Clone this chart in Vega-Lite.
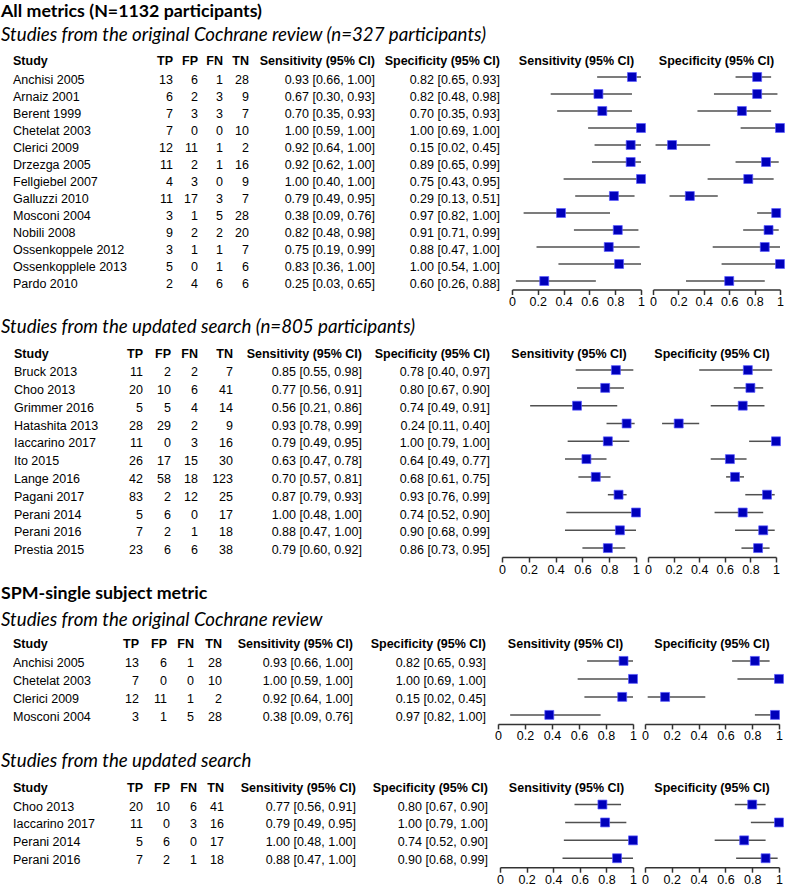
{
  "$schema": "https://vega.github.io/schema/vega-lite/v6.json",
  "padding": {"left": 1, "top": 2.5, "right": 0, "bottom": 0},
  "background": "white",
  "datasets": {
    "s1": [
      {"Study": "Anchisi 2005", "TP": 13, "FP": 6, "FN": 1, "TN": 28, "sens": 0.93, "sens_lo": 0.66, "sens_hi": 1.0, "spec": 0.82, "spec_lo": 0.65, "spec_hi": 0.93, "sens_ci": "0.93 [0.66, 1.00]", "spec_ci": "0.82 [0.65, 0.93]"},
      {"Study": "Arnaiz 2001", "TP": 6, "FP": 2, "FN": 3, "TN": 9, "sens": 0.67, "sens_lo": 0.30, "sens_hi": 0.93, "spec": 0.82, "spec_lo": 0.48, "spec_hi": 0.98, "sens_ci": "0.67 [0.30, 0.93]", "spec_ci": "0.82 [0.48, 0.98]"},
      {"Study": "Berent 1999", "TP": 7, "FP": 3, "FN": 3, "TN": 7, "sens": 0.70, "sens_lo": 0.35, "sens_hi": 0.93, "spec": 0.70, "spec_lo": 0.35, "spec_hi": 0.93, "sens_ci": "0.70 [0.35, 0.93]", "spec_ci": "0.70 [0.35, 0.93]"},
      {"Study": "Chetelat 2003", "TP": 7, "FP": 0, "FN": 0, "TN": 10, "sens": 1.0, "sens_lo": 0.59, "sens_hi": 1.0, "spec": 1.0, "spec_lo": 0.69, "spec_hi": 1.0, "sens_ci": "1.00 [0.59, 1.00]", "spec_ci": "1.00 [0.69, 1.00]"},
      {"Study": "Clerici 2009", "TP": 12, "FP": 11, "FN": 1, "TN": 2, "sens": 0.92, "sens_lo": 0.64, "sens_hi": 1.0, "spec": 0.15, "spec_lo": 0.02, "spec_hi": 0.45, "sens_ci": "0.92 [0.64, 1.00]", "spec_ci": "0.15 [0.02, 0.45]"},
      {"Study": "Drzezga 2005", "TP": 11, "FP": 2, "FN": 1, "TN": 16, "sens": 0.92, "sens_lo": 0.62, "sens_hi": 1.0, "spec": 0.89, "spec_lo": 0.65, "spec_hi": 0.99, "sens_ci": "0.92 [0.62, 1.00]", "spec_ci": "0.89 [0.65, 0.99]"},
      {"Study": "Fellgiebel 2007", "TP": 4, "FP": 3, "FN": 0, "TN": 9, "sens": 1.0, "sens_lo": 0.40, "sens_hi": 1.0, "spec": 0.75, "spec_lo": 0.43, "spec_hi": 0.95, "sens_ci": "1.00 [0.40, 1.00]", "spec_ci": "0.75 [0.43, 0.95]"},
      {"Study": "Galluzzi 2010", "TP": 11, "FP": 17, "FN": 3, "TN": 7, "sens": 0.79, "sens_lo": 0.49, "sens_hi": 0.95, "spec": 0.29, "spec_lo": 0.13, "spec_hi": 0.51, "sens_ci": "0.79 [0.49, 0.95]", "spec_ci": "0.29 [0.13, 0.51]"},
      {"Study": "Mosconi 2004", "TP": 3, "FP": 1, "FN": 5, "TN": 28, "sens": 0.38, "sens_lo": 0.09, "sens_hi": 0.76, "spec": 0.97, "spec_lo": 0.82, "spec_hi": 1.0, "sens_ci": "0.38 [0.09, 0.76]", "spec_ci": "0.97 [0.82, 1.00]"},
      {"Study": "Nobili 2008", "TP": 9, "FP": 2, "FN": 2, "TN": 20, "sens": 0.82, "sens_lo": 0.48, "sens_hi": 0.98, "spec": 0.91, "spec_lo": 0.71, "spec_hi": 0.99, "sens_ci": "0.82 [0.48, 0.98]", "spec_ci": "0.91 [0.71, 0.99]"},
      {"Study": "Ossenkoppele 2012", "TP": 3, "FP": 1, "FN": 1, "TN": 7, "sens": 0.75, "sens_lo": 0.19, "sens_hi": 0.99, "spec": 0.88, "spec_lo": 0.47, "spec_hi": 1.0, "sens_ci": "0.75 [0.19, 0.99]", "spec_ci": "0.88 [0.47, 1.00]"},
      {"Study": "Ossenkopplele 2013", "TP": 5, "FP": 0, "FN": 1, "TN": 6, "sens": 0.83, "sens_lo": 0.36, "sens_hi": 1.0, "spec": 1.0, "spec_lo": 0.54, "spec_hi": 1.0, "sens_ci": "0.83 [0.36, 1.00]", "spec_ci": "1.00 [0.54, 1.00]"},
      {"Study": "Pardo 2010", "TP": 2, "FP": 4, "FN": 6, "TN": 6, "sens": 0.25, "sens_lo": 0.03, "sens_hi": 0.65, "spec": 0.60, "spec_lo": 0.26, "spec_hi": 0.88, "sens_ci": "0.25 [0.03, 0.65]", "spec_ci": "0.60 [0.26, 0.88]"}
    ],
    "s2": [
      {"Study": "Bruck 2013", "TP": 11, "FP": 2, "FN": 2, "TN": 7, "sens": 0.85, "sens_lo": 0.55, "sens_hi": 0.98, "spec": 0.78, "spec_lo": 0.40, "spec_hi": 0.97, "sens_ci": "0.85 [0.55, 0.98]", "spec_ci": "0.78 [0.40, 0.97]"},
      {"Study": "Choo 2013", "TP": 20, "FP": 10, "FN": 6, "TN": 41, "sens": 0.77, "sens_lo": 0.56, "sens_hi": 0.91, "spec": 0.80, "spec_lo": 0.67, "spec_hi": 0.90, "sens_ci": "0.77 [0.56, 0.91]", "spec_ci": "0.80 [0.67, 0.90]"},
      {"Study": "Grimmer 2016", "TP": 5, "FP": 5, "FN": 4, "TN": 14, "sens": 0.56, "sens_lo": 0.21, "sens_hi": 0.86, "spec": 0.74, "spec_lo": 0.49, "spec_hi": 0.91, "sens_ci": "0.56 [0.21, 0.86]", "spec_ci": "0.74 [0.49, 0.91]"},
      {"Study": "Hatashita 2013", "TP": 28, "FP": 29, "FN": 2, "TN": 9, "sens": 0.93, "sens_lo": 0.78, "sens_hi": 0.99, "spec": 0.24, "spec_lo": 0.11, "spec_hi": 0.40, "sens_ci": "0.93 [0.78, 0.99]", "spec_ci": "0.24 [0.11, 0.40]"},
      {"Study": "Iaccarino 2017", "TP": 11, "FP": 0, "FN": 3, "TN": 16, "sens": 0.79, "sens_lo": 0.49, "sens_hi": 0.95, "spec": 1.0, "spec_lo": 0.79, "spec_hi": 1.0, "sens_ci": "0.79 [0.49, 0.95]", "spec_ci": "1.00 [0.79, 1.00]"},
      {"Study": "Ito 2015", "TP": 26, "FP": 17, "FN": 15, "TN": 30, "sens": 0.63, "sens_lo": 0.47, "sens_hi": 0.78, "spec": 0.64, "spec_lo": 0.49, "spec_hi": 0.77, "sens_ci": "0.63 [0.47, 0.78]", "spec_ci": "0.64 [0.49, 0.77]"},
      {"Study": "Lange 2016", "TP": 42, "FP": 58, "FN": 18, "TN": 123, "sens": 0.70, "sens_lo": 0.57, "sens_hi": 0.81, "spec": 0.68, "spec_lo": 0.61, "spec_hi": 0.75, "sens_ci": "0.70 [0.57, 0.81]", "spec_ci": "0.68 [0.61, 0.75]"},
      {"Study": "Pagani 2017", "TP": 83, "FP": 2, "FN": 12, "TN": 25, "sens": 0.87, "sens_lo": 0.79, "sens_hi": 0.93, "spec": 0.93, "spec_lo": 0.76, "spec_hi": 0.99, "sens_ci": "0.87 [0.79, 0.93]", "spec_ci": "0.93 [0.76, 0.99]"},
      {"Study": "Perani 2014", "TP": 5, "FP": 6, "FN": 0, "TN": 17, "sens": 1.0, "sens_lo": 0.48, "sens_hi": 1.0, "spec": 0.74, "spec_lo": 0.52, "spec_hi": 0.90, "sens_ci": "1.00 [0.48, 1.00]", "spec_ci": "0.74 [0.52, 0.90]"},
      {"Study": "Perani 2016", "TP": 7, "FP": 2, "FN": 1, "TN": 18, "sens": 0.88, "sens_lo": 0.47, "sens_hi": 1.0, "spec": 0.90, "spec_lo": 0.68, "spec_hi": 0.99, "sens_ci": "0.88 [0.47, 1.00]", "spec_ci": "0.90 [0.68, 0.99]"},
      {"Study": "Prestia 2015", "TP": 23, "FP": 6, "FN": 6, "TN": 38, "sens": 0.79, "sens_lo": 0.60, "sens_hi": 0.92, "spec": 0.86, "spec_lo": 0.73, "spec_hi": 0.95, "sens_ci": "0.79 [0.60, 0.92]", "spec_ci": "0.86 [0.73, 0.95]"}
    ],
    "s3": [
      {"Study": "Anchisi 2005", "TP": 13, "FP": 6, "FN": 1, "TN": 28, "sens": 0.93, "sens_lo": 0.66, "sens_hi": 1.0, "spec": 0.82, "spec_lo": 0.65, "spec_hi": 0.93, "sens_ci": "0.93 [0.66, 1.00]", "spec_ci": "0.82 [0.65, 0.93]"},
      {"Study": "Chetelat 2003", "TP": 7, "FP": 0, "FN": 0, "TN": 10, "sens": 1.0, "sens_lo": 0.59, "sens_hi": 1.0, "spec": 1.0, "spec_lo": 0.69, "spec_hi": 1.0, "sens_ci": "1.00 [0.59, 1.00]", "spec_ci": "1.00 [0.69, 1.00]"},
      {"Study": "Clerici 2009", "TP": 12, "FP": 11, "FN": 1, "TN": 2, "sens": 0.92, "sens_lo": 0.64, "sens_hi": 1.0, "spec": 0.15, "spec_lo": 0.02, "spec_hi": 0.45, "sens_ci": "0.92 [0.64, 1.00]", "spec_ci": "0.15 [0.02, 0.45]"},
      {"Study": "Mosconi 2004", "TP": 3, "FP": 1, "FN": 5, "TN": 28, "sens": 0.38, "sens_lo": 0.09, "sens_hi": 0.76, "spec": 0.97, "spec_lo": 0.82, "spec_hi": 1.0, "sens_ci": "0.38 [0.09, 0.76]", "spec_ci": "0.97 [0.82, 1.00]"}
    ],
    "s4": [
      {"Study": "Choo 2013", "TP": 20, "FP": 10, "FN": 6, "TN": 41, "sens": 0.77, "sens_lo": 0.56, "sens_hi": 0.91, "spec": 0.80, "spec_lo": 0.67, "spec_hi": 0.90, "sens_ci": "0.77 [0.56, 0.91]", "spec_ci": "0.80 [0.67, 0.90]"},
      {"Study": "Iaccarino 2017", "TP": 11, "FP": 0, "FN": 3, "TN": 16, "sens": 0.79, "sens_lo": 0.49, "sens_hi": 0.95, "spec": 1.0, "spec_lo": 0.79, "spec_hi": 1.0, "sens_ci": "0.79 [0.49, 0.95]", "spec_ci": "1.00 [0.79, 1.00]"},
      {"Study": "Perani 2014", "TP": 5, "FP": 6, "FN": 0, "TN": 17, "sens": 1.0, "sens_lo": 0.48, "sens_hi": 1.0, "spec": 0.74, "spec_lo": 0.52, "spec_hi": 0.90, "sens_ci": "1.00 [0.48, 1.00]", "spec_ci": "0.74 [0.52, 0.90]"},
      {"Study": "Perani 2016", "TP": 7, "FP": 2, "FN": 1, "TN": 18, "sens": 0.88, "sens_lo": 0.47, "sens_hi": 1.0, "spec": 0.90, "spec_lo": 0.68, "spec_hi": 0.99, "sens_ci": "0.88 [0.47, 1.00]", "spec_ci": "0.90 [0.68, 0.99]"}
    ]
  },
  "spacing": 8.7,
  "vconcat": [
    {
      "title": {"text": "All metrics (N=1132 participants)", "subtitle": "Studies from the original Cochrane review (n=327 participants)", "anchor": "start", "font": "Lato", "fontSize": 17.8, "fontWeight": "bold", "subtitleFont": "Lato", "subtitleFontSize": 18.7, "subtitleFontStyle": "italic", "subtitleColor": "black", "subtitlePadding": 6, "offset": 10, "color": "black"},
      "bounds": "flush",
      "spacing": 12,
      "hconcat": [
        {"width": 147, "height": 221, "data": {"name": "s1"}, "title": {"text": "Study", "anchor": "start", "dx": 12},
         "mark": {"type": "text", "align": "left", "baseline": "middle", "dx": 12, "dy": 3},
         "encoding": {"x": {"datum": 0, "type": "quantitative", "scale": {"domain": [0, 1]}, "axis": null}, "y": {"field": "Study", "type": "nominal", "sort": null, "axis": null}, "text": {"field": "Study"}}},
        {"width": 13, "height": 221, "data": {"name": "s1"}, "title": {"text": "TP", "anchor": "end"},
         "mark": {"type": "text", "align": "right", "baseline": "middle", "dy": 3},
         "encoding": {"x": {"datum": 1, "type": "quantitative", "scale": {"domain": [0, 1]}, "axis": null}, "y": {"field": "Study", "type": "nominal", "sort": null, "axis": null}, "text": {"field": "TP"}}},
        {"width": 13, "height": 221, "data": {"name": "s1"}, "title": {"text": "FP", "anchor": "end"},
         "mark": {"type": "text", "align": "right", "baseline": "middle", "dy": 3},
         "encoding": {"x": {"datum": 1, "type": "quantitative", "scale": {"domain": [0, 1]}, "axis": null}, "y": {"field": "Study", "type": "nominal", "sort": null, "axis": null}, "text": {"field": "FP"}}},
        {"width": 13, "height": 221, "data": {"name": "s1"}, "title": {"text": "FN", "anchor": "end"},
         "mark": {"type": "text", "align": "right", "baseline": "middle", "dy": 3},
         "encoding": {"x": {"datum": 1, "type": "quantitative", "scale": {"domain": [0, 1]}, "axis": null}, "y": {"field": "Study", "type": "nominal", "sort": null, "axis": null}, "text": {"field": "FN"}}},
        {"width": 14, "height": 221, "data": {"name": "s1"}, "title": {"text": "TN", "anchor": "end"},
         "mark": {"type": "text", "align": "right", "baseline": "middle", "dy": 3},
         "encoding": {"x": {"datum": 1, "type": "quantitative", "scale": {"domain": [0, 1]}, "axis": null}, "y": {"field": "Study", "type": "nominal", "sort": null, "axis": null}, "text": {"field": "TN"}}},
        {"width": 114, "height": 221, "data": {"name": "s1"}, "title": {"text": "Sensitivity (95% CI)", "anchor": "end"},
         "mark": {"type": "text", "align": "right", "baseline": "middle", "dy": 3},
         "encoding": {"x": {"datum": 1, "type": "quantitative", "scale": {"domain": [0, 1]}, "axis": null}, "y": {"field": "Study", "type": "nominal", "sort": null, "axis": null}, "text": {"field": "sens_ci"}}},
        {"width": 113, "height": 221, "data": {"name": "s1"}, "title": {"text": "Specificity (95% CI)", "anchor": "end"},
         "mark": {"type": "text", "align": "right", "baseline": "middle", "dy": 3},
         "encoding": {"x": {"datum": 1, "type": "quantitative", "scale": {"domain": [0, 1]}, "axis": null}, "y": {"field": "Study", "type": "nominal", "sort": null, "axis": null}, "text": {"field": "spec_ci"}}},
        {"width": 129, "height": 221, "data": {"name": "s1"}, "title": {"text": "Sensitivity (95% CI)", "anchor": "middle"},
         "layer": [
           {"mark": {"type": "rule", "color": "#505050", "strokeWidth": 1.5},
            "encoding": {"y": {"field": "Study", "type": "nominal", "sort": null, "axis": null}, "x": {"field": "sens_lo", "type": "quantitative", "scale": {"domain": [0, 1], "nice": false}, "axis": {"values": [0, 0.2, 0.4, 0.6, 0.8, 1], "format": "~g", "labelOverlap": false}}, "x2": {"field": "sens_hi"}}},
           {"mark": {"type": "square", "size": 80, "filled": true, "opacity": 1, "color": "#0000bb", "stroke": "#5a5aff", "strokeWidth": 0.7},
            "encoding": {"y": {"field": "Study", "type": "nominal", "sort": null, "axis": null}, "x": {"field": "sens", "type": "quantitative", "scale": {"domain": [0, 1], "nice": false}, "axis": {"values": [0, 0.2, 0.4, 0.6, 0.8, 1], "format": "~g", "labelOverlap": false}}}}
         ]},
        {"width": 127, "height": 221, "data": {"name": "s1"}, "title": {"text": "Specificity (95% CI)", "anchor": "middle"},
         "layer": [
           {"mark": {"type": "rule", "color": "#505050", "strokeWidth": 1.5},
            "encoding": {"y": {"field": "Study", "type": "nominal", "sort": null, "axis": null}, "x": {"field": "spec_lo", "type": "quantitative", "scale": {"domain": [0, 1], "nice": false}, "axis": {"values": [0, 0.2, 0.4, 0.6, 0.8, 1], "format": "~g", "labelOverlap": false}}, "x2": {"field": "spec_hi"}}},
           {"mark": {"type": "square", "size": 80, "filled": true, "opacity": 1, "color": "#0000bb", "stroke": "#5a5aff", "strokeWidth": 0.7},
            "encoding": {"y": {"field": "Study", "type": "nominal", "sort": null, "axis": null}, "x": {"field": "spec", "type": "quantitative", "scale": {"domain": [0, 1], "nice": false}, "axis": {"values": [0, 0.2, 0.4, 0.6, 0.8, 1], "format": "~g", "labelOverlap": false}}}}
         ]}
      ]
    },
    {
      "title": {"text": "Studies from the updated search (n=805 participants)", "anchor": "start", "font": "Lato", "fontSize": 18.7, "fontWeight": "normal", "fontStyle": "italic", "offset": 11, "color": "black"},
      "bounds": "flush",
      "spacing": 12,
      "hconcat": [
        {"width": 117, "height": 195.8, "data": {"name": "s2"}, "title": {"text": "Study", "anchor": "start", "dx": 13},
         "mark": {"type": "text", "align": "left", "baseline": "middle", "dx": 13, "dy": 2},
         "encoding": {"x": {"datum": 0, "type": "quantitative", "scale": {"domain": [0, 1]}, "axis": null}, "y": {"field": "Study", "type": "nominal", "sort": null, "axis": null}, "text": {"field": "Study"}}},
        {"width": 13, "height": 195.8, "data": {"name": "s2"}, "title": {"text": "TP", "anchor": "end"},
         "mark": {"type": "text", "align": "right", "baseline": "middle", "dy": 2},
         "encoding": {"x": {"datum": 1, "type": "quantitative", "scale": {"domain": [0, 1]}, "axis": null}, "y": {"field": "Study", "type": "nominal", "sort": null, "axis": null}, "text": {"field": "TP"}}},
        {"width": 16, "height": 195.8, "data": {"name": "s2"}, "title": {"text": "FP", "anchor": "end"},
         "mark": {"type": "text", "align": "right", "baseline": "middle", "dy": 2},
         "encoding": {"x": {"datum": 1, "type": "quantitative", "scale": {"domain": [0, 1]}, "axis": null}, "y": {"field": "Study", "type": "nominal", "sort": null, "axis": null}, "text": {"field": "FP"}}},
        {"width": 15, "height": 195.8, "data": {"name": "s2"}, "title": {"text": "FN", "anchor": "end"},
         "mark": {"type": "text", "align": "right", "baseline": "middle", "dy": 2},
         "encoding": {"x": {"datum": 1, "type": "quantitative", "scale": {"domain": [0, 1]}, "axis": null}, "y": {"field": "Study", "type": "nominal", "sort": null, "axis": null}, "text": {"field": "FN"}}},
        {"width": 23, "height": 195.8, "data": {"name": "s2"}, "title": {"text": "TN", "anchor": "end"},
         "mark": {"type": "text", "align": "right", "baseline": "middle", "dy": 2},
         "encoding": {"x": {"datum": 1, "type": "quantitative", "scale": {"domain": [0, 1]}, "axis": null}, "y": {"field": "Study", "type": "nominal", "sort": null, "axis": null}, "text": {"field": "TN"}}},
        {"width": 117, "height": 195.8, "data": {"name": "s2"}, "title": {"text": "Sensitivity (95% CI)", "anchor": "end"},
         "mark": {"type": "text", "align": "right", "baseline": "middle", "dy": 2},
         "encoding": {"x": {"datum": 1, "type": "quantitative", "scale": {"domain": [0, 1]}, "axis": null}, "y": {"field": "Study", "type": "nominal", "sort": null, "axis": null}, "text": {"field": "sens_ci"}}},
        {"width": 116, "height": 195.8, "data": {"name": "s2"}, "title": {"text": "Specificity (95% CI)", "anchor": "end"},
         "mark": {"type": "text", "align": "right", "baseline": "middle", "dy": 2},
         "encoding": {"x": {"datum": 1, "type": "quantitative", "scale": {"domain": [0, 1]}, "axis": null}, "y": {"field": "Study", "type": "nominal", "sort": null, "axis": null}, "text": {"field": "spec_ci"}}},
        {"width": 134, "height": 195.8, "data": {"name": "s2"}, "title": {"text": "Sensitivity (95% CI)", "anchor": "middle"},
         "layer": [
           {"mark": {"type": "rule", "color": "#505050", "strokeWidth": 1.5},
            "encoding": {"y": {"field": "Study", "type": "nominal", "sort": null, "axis": null}, "x": {"field": "sens_lo", "type": "quantitative", "scale": {"domain": [0, 1], "nice": false}, "axis": {"values": [0, 0.2, 0.4, 0.6, 0.8, 1], "format": "~g", "labelOverlap": false}}, "x2": {"field": "sens_hi"}}},
           {"mark": {"type": "square", "size": 80, "filled": true, "opacity": 1, "color": "#0000bb", "stroke": "#5a5aff", "strokeWidth": 0.7},
            "encoding": {"y": {"field": "Study", "type": "nominal", "sort": null, "axis": null}, "x": {"field": "sens", "type": "quantitative", "scale": {"domain": [0, 1], "nice": false}, "axis": {"values": [0, 0.2, 0.4, 0.6, 0.8, 1], "format": "~g", "labelOverlap": false}}}}
         ]},
        {"width": 128, "height": 195.8, "data": {"name": "s2"}, "title": {"text": "Specificity (95% CI)", "anchor": "middle"},
         "layer": [
           {"mark": {"type": "rule", "color": "#505050", "strokeWidth": 1.5},
            "encoding": {"y": {"field": "Study", "type": "nominal", "sort": null, "axis": null}, "x": {"field": "spec_lo", "type": "quantitative", "scale": {"domain": [0, 1], "nice": false}, "axis": {"values": [0, 0.2, 0.4, 0.6, 0.8, 1], "format": "~g", "labelOverlap": false}}, "x2": {"field": "spec_hi"}}},
           {"mark": {"type": "square", "size": 80, "filled": true, "opacity": 1, "color": "#0000bb", "stroke": "#5a5aff", "strokeWidth": 0.7},
            "encoding": {"y": {"field": "Study", "type": "nominal", "sort": null, "axis": null}, "x": {"field": "spec", "type": "quantitative", "scale": {"domain": [0, 1], "nice": false}, "axis": {"values": [0, 0.2, 0.4, 0.6, 0.8, 1], "format": "~g", "labelOverlap": false}}}}
         ]}
      ]
    },
    {
      "title": {"text": "SPM-single subject metric", "subtitle": "Studies from the original Cochrane review", "anchor": "start", "font": "Lato", "fontSize": 17.8, "fontWeight": "bold", "subtitleFont": "Lato", "subtitleFontSize": 18.7, "subtitleFontStyle": "italic", "subtitleColor": "black", "subtitlePadding": 7.5, "offset": 9, "color": "black"},
      "bounds": "flush",
      "spacing": 12,
      "hconcat": [
        {"width": 113, "height": 72, "data": {"name": "s3"}, "title": {"text": "Study", "anchor": "start", "dx": 12},
         "mark": {"type": "text", "align": "left", "baseline": "middle", "dx": 12, "dy": 2},
         "encoding": {"x": {"datum": 0, "type": "quantitative", "scale": {"domain": [0, 1]}, "axis": null}, "y": {"field": "Study", "type": "nominal", "sort": null, "axis": null}, "text": {"field": "Study"}}},
        {"width": 13, "height": 72, "data": {"name": "s3"}, "title": {"text": "TP", "anchor": "end"},
         "mark": {"type": "text", "align": "right", "baseline": "middle", "dy": 2},
         "encoding": {"x": {"datum": 1, "type": "quantitative", "scale": {"domain": [0, 1]}, "axis": null}, "y": {"field": "Study", "type": "nominal", "sort": null, "axis": null}, "text": {"field": "TP"}}},
        {"width": 16, "height": 72, "data": {"name": "s3"}, "title": {"text": "FP", "anchor": "end"},
         "mark": {"type": "text", "align": "right", "baseline": "middle", "dy": 2},
         "encoding": {"x": {"datum": 1, "type": "quantitative", "scale": {"domain": [0, 1]}, "axis": null}, "y": {"field": "Study", "type": "nominal", "sort": null, "axis": null}, "text": {"field": "FP"}}},
        {"width": 15, "height": 72, "data": {"name": "s3"}, "title": {"text": "FN", "anchor": "end"},
         "mark": {"type": "text", "align": "right", "baseline": "middle", "dy": 2},
         "encoding": {"x": {"datum": 1, "type": "quantitative", "scale": {"domain": [0, 1]}, "axis": null}, "y": {"field": "Study", "type": "nominal", "sort": null, "axis": null}, "text": {"field": "FN"}}},
        {"width": 16, "height": 72, "data": {"name": "s3"}, "title": {"text": "TN", "anchor": "end"},
         "mark": {"type": "text", "align": "right", "baseline": "middle", "dy": 2},
         "encoding": {"x": {"datum": 1, "type": "quantitative", "scale": {"domain": [0, 1]}, "axis": null}, "y": {"field": "Study", "type": "nominal", "sort": null, "axis": null}, "text": {"field": "TN"}}},
        {"width": 119, "height": 72, "data": {"name": "s3"}, "title": {"text": "Sensitivity (95% CI)", "anchor": "end"},
         "mark": {"type": "text", "align": "right", "baseline": "middle", "dy": 2},
         "encoding": {"x": {"datum": 1, "type": "quantitative", "scale": {"domain": [0, 1]}, "axis": null}, "y": {"field": "Study", "type": "nominal", "sort": null, "axis": null}, "text": {"field": "sens_ci"}}},
        {"width": 121, "height": 72, "data": {"name": "s3"}, "title": {"text": "Specificity (95% CI)", "anchor": "end"},
         "mark": {"type": "text", "align": "right", "baseline": "middle", "dy": 2},
         "encoding": {"x": {"datum": 1, "type": "quantitative", "scale": {"domain": [0, 1]}, "axis": null}, "y": {"field": "Study", "type": "nominal", "sort": null, "axis": null}, "text": {"field": "spec_ci"}}},
        {"width": 135, "height": 72, "data": {"name": "s3"}, "title": {"text": "Sensitivity (95% CI)", "anchor": "middle"},
         "layer": [
           {"mark": {"type": "rule", "color": "#505050", "strokeWidth": 1.5},
            "encoding": {"y": {"field": "Study", "type": "nominal", "sort": null, "axis": null}, "x": {"field": "sens_lo", "type": "quantitative", "scale": {"domain": [0, 1], "nice": false}, "axis": {"values": [0, 0.2, 0.4, 0.6, 0.8, 1], "format": "~g", "labelOverlap": false}}, "x2": {"field": "sens_hi"}}},
           {"mark": {"type": "square", "size": 80, "filled": true, "opacity": 1, "color": "#0000bb", "stroke": "#5a5aff", "strokeWidth": 0.7},
            "encoding": {"y": {"field": "Study", "type": "nominal", "sort": null, "axis": null}, "x": {"field": "sens", "type": "quantitative", "scale": {"domain": [0, 1], "nice": false}, "axis": {"values": [0, 0.2, 0.4, 0.6, 0.8, 1], "format": "~g", "labelOverlap": false}}}}
         ]},
        {"width": 134, "height": 72, "data": {"name": "s3"}, "title": {"text": "Specificity (95% CI)", "anchor": "middle"},
         "layer": [
           {"mark": {"type": "rule", "color": "#505050", "strokeWidth": 1.5},
            "encoding": {"y": {"field": "Study", "type": "nominal", "sort": null, "axis": null}, "x": {"field": "spec_lo", "type": "quantitative", "scale": {"domain": [0, 1], "nice": false}, "axis": {"values": [0, 0.2, 0.4, 0.6, 0.8, 1], "format": "~g", "labelOverlap": false}}, "x2": {"field": "spec_hi"}}},
           {"mark": {"type": "square", "size": 80, "filled": true, "opacity": 1, "color": "#0000bb", "stroke": "#5a5aff", "strokeWidth": 0.7},
            "encoding": {"y": {"field": "Study", "type": "nominal", "sort": null, "axis": null}, "x": {"field": "spec", "type": "quantitative", "scale": {"domain": [0, 1], "nice": false}, "axis": {"values": [0, 0.2, 0.4, 0.6, 0.8, 1], "format": "~g", "labelOverlap": false}}}}
         ]}
      ]
    },
    {
      "title": {"text": "Studies from the updated search", "anchor": "start", "font": "Lato", "fontSize": 18.7, "fontWeight": "normal", "fontStyle": "italic", "offset": 11.5, "color": "black"},
      "bounds": "flush",
      "spacing": 12,
      "hconcat": [
        {"width": 117, "height": 71.6, "data": {"name": "s4"}, "title": {"text": "Study", "anchor": "start", "dx": 12},
         "mark": {"type": "text", "align": "left", "baseline": "middle", "dx": 12, "dy": 2},
         "encoding": {"x": {"datum": 0, "type": "quantitative", "scale": {"domain": [0, 1]}, "axis": null}, "y": {"field": "Study", "type": "nominal", "sort": null, "axis": null}, "text": {"field": "Study"}}},
        {"width": 13, "height": 71.6, "data": {"name": "s4"}, "title": {"text": "TP", "anchor": "end"},
         "mark": {"type": "text", "align": "right", "baseline": "middle", "dy": 2},
         "encoding": {"x": {"datum": 1, "type": "quantitative", "scale": {"domain": [0, 1]}, "axis": null}, "y": {"field": "Study", "type": "nominal", "sort": null, "axis": null}, "text": {"field": "TP"}}},
        {"width": 15, "height": 71.6, "data": {"name": "s4"}, "title": {"text": "FP", "anchor": "end"},
         "mark": {"type": "text", "align": "right", "baseline": "middle", "dy": 2},
         "encoding": {"x": {"datum": 1, "type": "quantitative", "scale": {"domain": [0, 1]}, "axis": null}, "y": {"field": "Study", "type": "nominal", "sort": null, "axis": null}, "text": {"field": "FP"}}},
        {"width": 15, "height": 71.6, "data": {"name": "s4"}, "title": {"text": "FN", "anchor": "end"},
         "mark": {"type": "text", "align": "right", "baseline": "middle", "dy": 2},
         "encoding": {"x": {"datum": 1, "type": "quantitative", "scale": {"domain": [0, 1]}, "axis": null}, "y": {"field": "Study", "type": "nominal", "sort": null, "axis": null}, "text": {"field": "FN"}}},
        {"width": 15, "height": 71.6, "data": {"name": "s4"}, "title": {"text": "TN", "anchor": "end"},
         "mark": {"type": "text", "align": "right", "baseline": "middle", "dy": 2},
         "encoding": {"x": {"datum": 1, "type": "quantitative", "scale": {"domain": [0, 1]}, "axis": null}, "y": {"field": "Study", "type": "nominal", "sort": null, "axis": null}, "text": {"field": "TN"}}},
        {"width": 120, "height": 71.6, "data": {"name": "s4"}, "title": {"text": "Sensitivity (95% CI)", "anchor": "end"},
         "mark": {"type": "text", "align": "right", "baseline": "middle", "dy": 2},
         "encoding": {"x": {"datum": 1, "type": "quantitative", "scale": {"domain": [0, 1]}, "axis": null}, "y": {"field": "Study", "type": "nominal", "sort": null, "axis": null}, "text": {"field": "sens_ci"}}},
        {"width": 120, "height": 71.6, "data": {"name": "s4"}, "title": {"text": "Specificity (95% CI)", "anchor": "end"},
         "mark": {"type": "text", "align": "right", "baseline": "middle", "dy": 2},
         "encoding": {"x": {"datum": 1, "type": "quantitative", "scale": {"domain": [0, 1]}, "axis": null}, "y": {"field": "Study", "type": "nominal", "sort": null, "axis": null}, "text": {"field": "spec_ci"}}},
        {"width": 133, "height": 71.6, "data": {"name": "s4"}, "title": {"text": "Sensitivity (95% CI)", "anchor": "middle"},
         "layer": [
           {"mark": {"type": "rule", "color": "#505050", "strokeWidth": 1.5},
            "encoding": {"y": {"field": "Study", "type": "nominal", "sort": null, "axis": null}, "x": {"field": "sens_lo", "type": "quantitative", "scale": {"domain": [0, 1], "nice": false}, "axis": {"values": [0, 0.2, 0.4, 0.6, 0.8, 1], "format": "~g", "labelOverlap": false}}, "x2": {"field": "sens_hi"}}},
           {"mark": {"type": "square", "size": 80, "filled": true, "opacity": 1, "color": "#0000bb", "stroke": "#5a5aff", "strokeWidth": 0.7},
            "encoding": {"y": {"field": "Study", "type": "nominal", "sort": null, "axis": null}, "x": {"field": "sens", "type": "quantitative", "scale": {"domain": [0, 1], "nice": false}, "axis": {"values": [0, 0.2, 0.4, 0.6, 0.8, 1], "format": "~g", "labelOverlap": false}}}}
         ]},
        {"width": 134, "height": 71.6, "data": {"name": "s4"}, "title": {"text": "Specificity (95% CI)", "anchor": "middle"},
         "layer": [
           {"mark": {"type": "rule", "color": "#505050", "strokeWidth": 1.5},
            "encoding": {"y": {"field": "Study", "type": "nominal", "sort": null, "axis": null}, "x": {"field": "spec_lo", "type": "quantitative", "scale": {"domain": [0, 1], "nice": false}, "axis": {"values": [0, 0.2, 0.4, 0.6, 0.8, 1], "format": "~g", "labelOverlap": false}}, "x2": {"field": "spec_hi"}}},
           {"mark": {"type": "square", "size": 80, "filled": true, "opacity": 1, "color": "#0000bb", "stroke": "#5a5aff", "strokeWidth": 0.7},
            "encoding": {"y": {"field": "Study", "type": "nominal", "sort": null, "axis": null}, "x": {"field": "spec", "type": "quantitative", "scale": {"domain": [0, 1], "nice": false}, "axis": {"values": [0, 0.2, 0.4, 0.6, 0.8, 1], "format": "~g", "labelOverlap": false}}}}
         ]}
      ]
    }
  ],
  "config": {
    "view": {"stroke": null},
    "title": {"font": "Liberation Sans", "fontSize": 12.5, "fontWeight": "bold", "color": "black", "offset": 1},
    "text": {"font": "Liberation Sans", "fontSize": 12.5, "color": "black"},
    "axis": {"grid": false, "title": null, "labelFont": "Liberation Sans", "labelFontSize": 12.5, "labelColor": "black", "labelFlush": false, "labelOverlap": false, "tickSize": 5, "labelPadding": 1, "domainColor": "#333333", "tickColor": "#333333", "domainWidth": 1.5, "tickWidth": 1.5}
  }
}
